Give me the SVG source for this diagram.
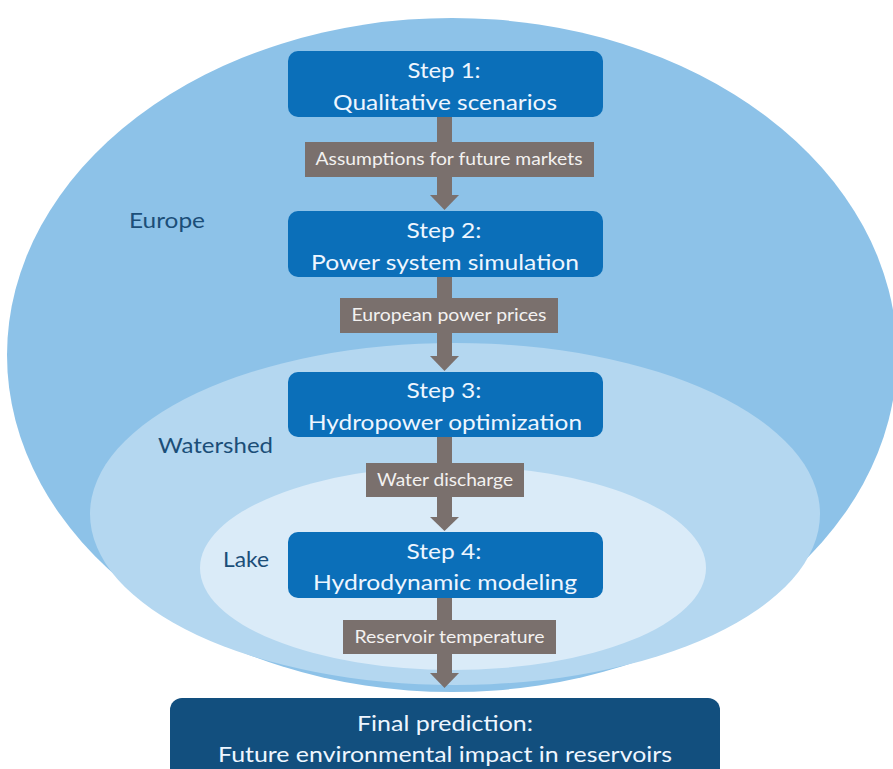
<svg xmlns="http://www.w3.org/2000/svg" width="893" height="769" viewBox="0 0 893 769">
<style>
.step{fill:#0B6FB9}
.final{fill:#124F7E}
.st{font-family:Lato,"Open Sans","Liberation Sans",sans-serif;font-size:22px;fill:#EEF6FF;text-anchor:middle}
.lb{fill:#7A706D}
.lt{font-family:Lato,"Open Sans","Liberation Sans",sans-serif;font-size:17px;fill:#F3F1F0;text-anchor:middle}
.rg{font-family:Lato,"Open Sans","Liberation Sans",sans-serif;font-size:22px;fill:#1B4E78}
.ar{fill:#7A706D}
</style>
<rect width="893" height="769" fill="#FFFFFF"/>
<g id="regions">
  <ellipse id="europe" cx="452" cy="355" rx="445" ry="337" fill="#8DC2E8"/>
  <ellipse id="watershed" cx="455" cy="514" rx="365" ry="171" fill="#B4D7F0"/>
  <ellipse id="lake" cx="453" cy="568" rx="253" ry="102" fill="#DAEBF8"/>
  <text class="rg" x="129" y="228" textLength="76" lengthAdjust="spacingAndGlyphs">Europe</text>
  <text class="rg" x="158" y="453" textLength="115" lengthAdjust="spacingAndGlyphs">Watershed</text>
  <text class="rg" x="223" y="567" textLength="46" lengthAdjust="spacingAndGlyphs">Lake</text>
</g>
<g id="connectors">
  <g id="c1">
    <rect class="ar" x="437" y="117" width="15" height="79"/>
    <polygon class="ar" points="430,195 459,195 444.5,210"/>
    <rect class="lb" x="305" y="142" width="289" height="35"/>
    <text class="lt" x="449" y="165" textLength="267" lengthAdjust="spacingAndGlyphs">Assumptions for future markets</text>
  </g>
  <g id="c2">
    <rect class="ar" x="437" y="277" width="15" height="80"/>
    <polygon class="ar" points="430,356 459,356 444.5,371"/>
    <rect class="lb" x="340" y="298" width="218" height="35"/>
    <text class="lt" x="449" y="321" textLength="195" lengthAdjust="spacingAndGlyphs">European power prices</text>
  </g>
  <g id="c3">
    <rect class="ar" x="437" y="437" width="15" height="81"/>
    <polygon class="ar" points="430,517 459,517 444.5,531"/>
    <rect class="lb" x="366" y="463" width="158" height="34"/>
    <text class="lt" x="445" y="486" textLength="136" lengthAdjust="spacingAndGlyphs">Water discharge</text>
  </g>
  <g id="c4">
    <rect class="ar" x="437" y="598" width="15" height="76"/>
    <polygon class="ar" points="430,673 459,673 444.5,688"/>
    <rect class="lb" x="343" y="620" width="213" height="34"/>
    <text class="lt" x="449.5" y="643" textLength="190" lengthAdjust="spacingAndGlyphs">Reservoir temperature</text>
  </g>
</g>
<g id="step1">
  <rect class="step" x="288" y="51" width="315" height="66" rx="10"/>
  <text class="st" x="444" y="78" textLength="73" lengthAdjust="spacingAndGlyphs">Step 1:</text>
  <text class="st" x="445" y="110" textLength="224" lengthAdjust="spacingAndGlyphs">Qualitative scenarios</text>
</g>
<g id="step2">
  <rect class="step" x="288" y="211" width="315" height="66" rx="10"/>
  <text class="st" x="444" y="238" textLength="75" lengthAdjust="spacingAndGlyphs">Step 2:</text>
  <text class="st" x="445" y="270" textLength="268" lengthAdjust="spacingAndGlyphs">Power system simulation</text>
</g>
<g id="step3">
  <rect class="step" x="288" y="372" width="315" height="65" rx="10"/>
  <text class="st" x="444" y="398" textLength="75" lengthAdjust="spacingAndGlyphs">Step 3:</text>
  <text class="st" x="445" y="430" textLength="274" lengthAdjust="spacingAndGlyphs">Hydropower optimization</text>
</g>
<g id="step4">
  <rect class="step" x="288" y="532" width="315" height="66" rx="10"/>
  <text class="st" x="444" y="559" textLength="75" lengthAdjust="spacingAndGlyphs">Step 4:</text>
  <text class="st" x="445" y="590" textLength="264" lengthAdjust="spacingAndGlyphs">Hydrodynamic modeling</text>
</g>
<g id="final">
  <rect class="final" x="170" y="698" width="550" height="90" rx="12"/>
  <text class="st" x="445" y="731" textLength="176" lengthAdjust="spacingAndGlyphs">Final prediction:</text>
  <text class="st" x="445" y="762" textLength="454" lengthAdjust="spacingAndGlyphs">Future environmental impact in reservoirs</text>
</g>
</svg>
